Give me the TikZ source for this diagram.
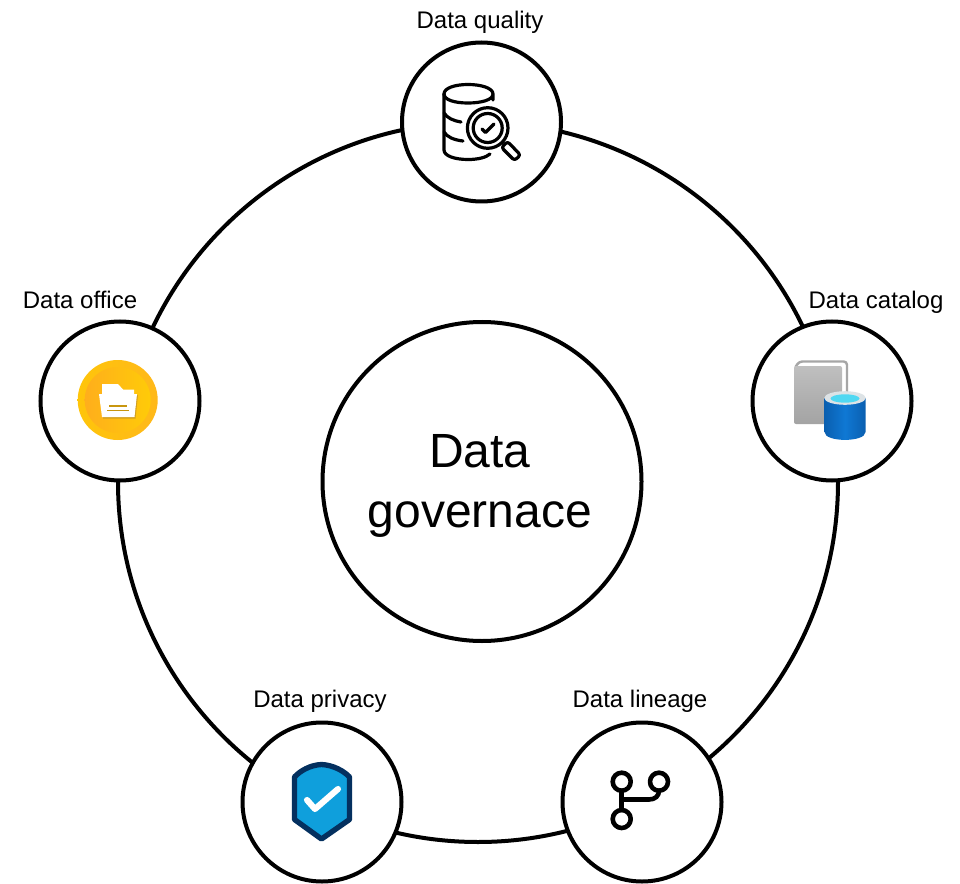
\documentclass[tikz,border=0pt]{standalone}
\usepackage{fontspec}
\setmainfont{Liberation Sans}
\definecolor{shieldfill}{HTML}{0F9FDC}
\definecolor{shieldedge}{HTML}{04305F}
\definecolor{bookedge}{HTML}{A6A6A6}
\definecolor{goldA}{HTML}{FFC50A}
\definecolor{goldB}{HTML}{FFB81A}
\definecolor{goldC}{HTML}{FFAE1C}
\definecolor{goldD}{HTML}{FFCB08}
\definecolor{folderline}{HTML}{C8960F}
\definecolor{foldershadow}{HTML}{D2A020}
\definecolor{cylA}{HTML}{0A5FB0}
\definecolor{cylB}{HTML}{0F78D4}
\definecolor{cylrim}{HTML}{DDE3E6}
\definecolor{cyltop}{HTML}{50D8F2}
\tikzset{
  px/.style={x=0.75pt,y=-0.75pt},
  ringline/.style={draw=black,line width=3pt,circle,inner sep=0pt,minimum size=#1*0.75pt},
  hub/.style={ringline=319,fill=white},
  spoke/.style={ringline=159,fill=white},
  lab/.style={font=\fontsize{18}{22}\selectfont,inner sep=0pt},
  iconline/.style={draw=black,line width=#1*0.75pt,line cap=round,line join=round},
}
\begin{document}
\begin{tikzpicture}[px]
\useasboundingbox (0,0) rectangle (960,884);
\node[ringline=720] (ring) at (478,482) {};
\node[hub] (center) at (482,481.5) {};
\node[spoke] (quality) at (481.5,122) {};
\node[spoke] (catalog) at (832,401) {};
\node[spoke] (lineage) at (642,802) {};
\node[spoke] (privacy) at (322,802) {};
\node[spoke] (office) at (120,401) {};
\node[font=\fontsize{36}{45}\selectfont,align=center,inner sep=0pt] (centertext) at (480,486) {Data\\governace};
\node[lab] (lq) at (480,22) {Data quality};
\node[lab] (lc) at (876,302) {Data catalog};
\node[lab] (ll) at (640,701) {Data lineage};
\node[lab] (lp) at (320,701) {Data privacy};
\node[lab] (lo) at (80,300) {Data office};

% data quality icon
\draw[iconline=3.2] (493,94) .. controls (493,88) and (481,84.5) .. (468,84.5) .. controls (455,84.5) and (444,88) .. (444,94) .. controls (444,100) and (455,103) .. (468,103) .. controls (481,103) and (493,100) .. (493,94) -- (493,100);
\draw[iconline=3.2] (444,94) -- (444,150) .. controls (444,156) and (455,159.5) .. (468,159.5) .. controls (478,159.5) and (486,157.5) .. (490,154);
\draw[iconline=3.2] (444,113) .. controls (447,118) and (454,121) .. (461,122);
\draw[iconline=3.2] (444,132) .. controls (447,137) and (454,140) .. (463,141);
\draw[iconline=3.2] (487.7,128) circle (20.3);
\draw[iconline=3.2] (487.7,128) circle (14.5);
\draw[iconline=3.2] (482,129) -- (485.5,132.5) -- (494,124);
\draw[iconline=3.2,rounded corners=2] (501.5,147.5) -- (507.5,141.5) -- (520.5,155) -- (514.5,160.5) -- cycle;

% data catalog icon
\draw[draw=bookedge,line width=1.8pt,rounded corners=2.5pt] (795.5,367) -- (799,361.5) -- (847,361.5) -- (847,394);
\path[top color=gray!50,bottom color=gray!72,rounded corners=1.5pt] (794,366) rectangle (842,424);
\path[left color=cylA,right color=cylA,middle color=cylB] (824.5,398) -- (824.5,432) .. controls (824.5,442.5) and (865.5,442.5) .. (865.5,432) -- (865.5,398) -- cycle;
\fill[cylrim] (845,398) ellipse [x radius=20.75,y radius=6.8];
\fill[cyltop] (845,398.5) ellipse [x radius=14.5,y radius=4.2];

% data office icon
\shade[left color=goldA,right color=goldB] (117.7,400) circle (40);
\shade[left color=goldC,right color=goldD] (117.7,400) circle (33);
\fill[white] (102,397) -- (102,384) -- (118,384) -- (123,389.5) -- (134,389.5) -- (134,397) -- cycle;
\fill[foldershadow] (100,395) -- (138,395) -- (135.5,418.5) -- (103,418.5) -- cycle;
\fill[white] (99,394) -- (137,394) -- (134.5,417) -- (102,417) -- cycle;
\draw[draw=folderline,line width=.9pt] (109,406) -- (127,406) (107,410.5) -- (129,410.5);

% data privacy icon
\draw[draw=shieldedge,fill=shieldfill,line width=4pt,line join=round] (321.5,764.5) .. controls (333,765) and (344,771) .. (349.5,777) -- (349.5,819.5) -- (321.5,839) -- (294.5,819.5) -- (294.5,777) .. controls (300,771) and (310,765) .. (321.5,764.5) -- cycle;
\draw[white,line width=4.6pt,line cap=round,line join=round] (307,800) -- (315,809) -- (338,789);

% data lineage icon
\draw[iconline=4.6] (621.7,781.7) circle (9);
\draw[iconline=4.6] (659,781.7) circle (9);
\draw[iconline=4.6] (621.7,819) circle (9);
\draw[iconline=4.6] (621.7,790.7) -- (621.7,810);
\draw[iconline=4.6] (621.7,799.5) -- (649,799.5) .. controls (655,799.5) and (659,796) .. (659,790.7);
\end{tikzpicture}
\end{document}
